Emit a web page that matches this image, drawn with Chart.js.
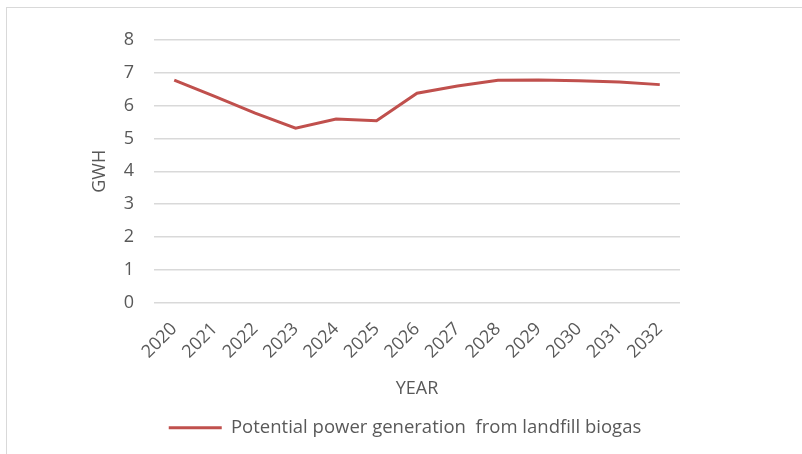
<!DOCTYPE html>
<html>
<head>
<meta charset="utf-8">
<script src="https://cdn.jsdelivr.net/npm/chart.js@4"></script>
<style>
  html, body { margin: 0; padding: 0; background: #fff; overflow: hidden; }
  #frame { position: absolute; left: 6px; top: 7px; width: 900px; height: 600px; border: 1px solid #d9d9d9; }
  #chart { position: absolute; left: 0; top: 0; }
</style>
</head>
<body>
<div id="frame"></div>
<canvas id="chart" width="802" height="454"></canvas>
<script>
const years = ['2020', '2021', '2022', '2023', '2024', '2025', '2026', '2027', '2028', '2029', '2030', '2031', '2032'];
const generation = [6.78, 6.28, 5.77, 5.31, 5.59, 5.54, 6.38, 6.6, 6.77, 6.78, 6.76, 6.72, 6.64];
const seriesName = 'Potential power generation  from landfill biogas';
const yTitle = 'GWH';
const xTitle = 'YEAR';

const textColor = '#595959';
const lineColor = '#C0504D';
const gridColor = '#d9d9d9';

Chart.defaults.font.family = '"Open Sans", Lato, sans-serif';
Chart.defaults.color = textColor;

// legend sits centred on the whole picture, not on the plot area
const legendShift = {
    id: 'legendShift',
    afterLayout(chart) {
        const lg = chart.legend;
        const mid = chart.width / 2 + 4;
        const half = (lg.right - lg.left) / 2;
        lg.left = mid - half;
        lg.right = mid + half;
    }
};

const ctx = document.getElementById('chart');

new Chart(ctx, {
    type: 'line',
    data: {
        labels: years,
        datasets: [{
            label: seriesName,
            data: generation,
            borderColor: lineColor,
            backgroundColor: lineColor,
            borderWidth: 3,
            pointRadius: 0,
            tension: 0
        }]
    },
    options: {
        responsive: false,
        animation: false,
        layout: { padding: { left: 88, top: 40, right: 122, bottom: 7 } },
        plugins: {
            tooltip: { enabled: false },
            legend: {
                position: 'bottom',
                labels: {
                    boxWidth: 53,
                    boxHeight: 3,
                    padding: 10,
                    font: { size: 18.5 },
                    color: textColor,
                    generateLabels: (chart) => chart.data.datasets.map((ds, i) => ({
                        text: ds.label,
                        fillStyle: ds.borderColor,
                        strokeStyle: ds.borderColor,
                        lineWidth: 0,
                        fontColor: textColor,
                        datasetIndex: i
                    }))
                }
            }
        },
        scales: {
            x: {
                offset: true,
                grid: { display: false },
                border: { display: false },
                ticks: { minRotation: 45, maxRotation: 45, padding: 8, font: { size: 18 }, color: textColor },
                title: { display: true, text: xTitle, font: { size: 18 }, color: textColor, padding: { top: 9, bottom: 9 } },
                afterFit: (scale) => { scale.height = 106; }
            },
            y: {
                min: 0,
                max: 8,
                grid: { color: gridColor, lineWidth: 1.5, drawTicks: false },
                border: { display: false },
                ticks: { stepSize: 1, padding: 20, font: { size: 18 }, color: textColor },
                title: { display: true, text: yTitle, font: { size: 18 }, color: textColor, padding: { top: 1, bottom: 1 } },
                afterFit: (scale) => { scale.width = 66; }
            }
        }
    },
    plugins: [legendShift]
});
</script>
</body>
</html>
